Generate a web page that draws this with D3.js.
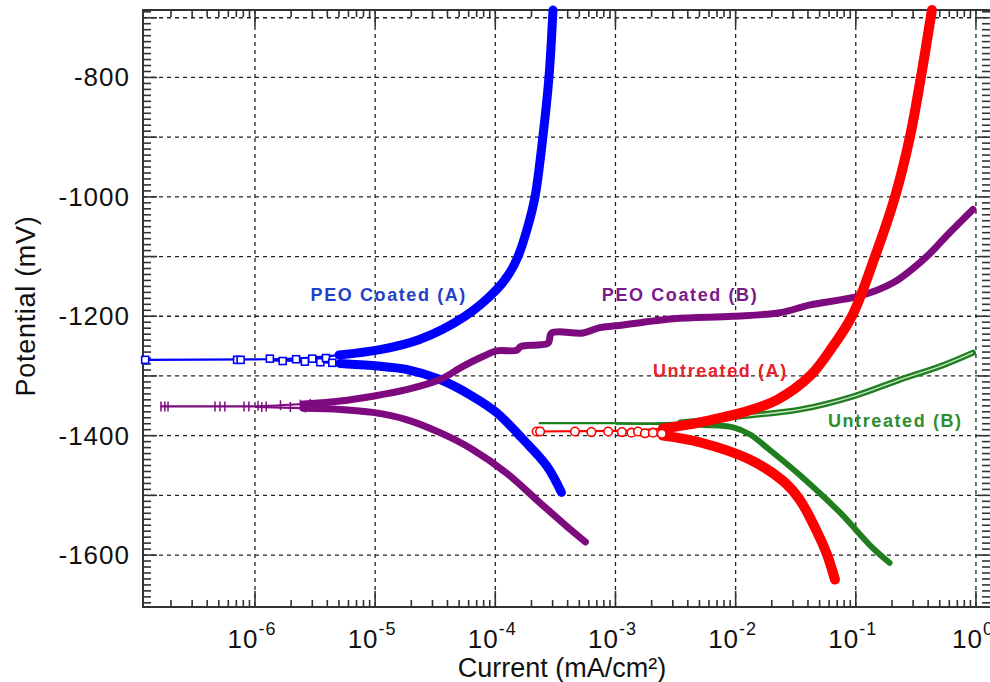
<!DOCTYPE html>
<html>
<head>
<meta charset="utf-8">
<script src="https://cdn.jsdelivr.net/npm/d3@7/dist/d3.min.js"></script>
<style>
  body { margin: 0; background: #fff; }
  svg { display: block; font-family: Arial, "Liberation Sans", sans-serif; }
  .tickLabel { font-size: 26px; fill: #111; letter-spacing: 1px; }
  .axisTitle { font-size: 27px; fill: #111; }
  .grid line { stroke: #222; stroke-width: 1.3; stroke-dasharray: 4,4; }
  .frame line { stroke: #333; stroke-width: 2; }
  .ticks line { stroke: #333; stroke-width: 1.6; }
  .seriesLabel { font-size: 18px; font-weight: bold; letter-spacing: 1.6px; }
</style>
</head>
<body>
<script>
// ---- data: current (mA/cm2), potential (mV) ----
const blueAnodicI = [1.26e-6, 2.51e-6, 5.0e-6, 1.10e-5, 2.34e-5, 5.6e-5, 1.03e-4, 1.32e-4, 1.545e-4, 1.87e-4, 2.14e-4, 2.49e-4, 2.80e-4, 3.02e-4];
const blueAnodicE = [-1272, -1270, -1265, -1256, -1239, -1200, -1155, -1127, -1100, -1049, -1000, -899, -798, -687];
const blueCathodicI = [1.26e-6, 2.51e-6, 5.1e-6, 1.0e-5, 1.82e-5, 3.47e-5, 6.46e-5, 1.02e-4, 1.70e-4, 2.69e-4, 3.55e-4];
const blueCathodicE = [-1274, -1275, -1279, -1283, -1289, -1306, -1334, -1361, -1406, -1451, -1495];
const blueMarkI = [1.22e-7, 7.1e-7, 7.6e-7, 1.33e-6, 1.7e-6, 2.2e-6, 2.6e-6, 3.0e-6, 3.5e-6, 3.9e-6, 4.4e-6];
const blueMarkE = [-1273, -1273, -1273, -1271, -1275, -1272, -1276, -1271, -1277, -1270, -1278];

const purpleAnodicI = [1.0e-6, 2.51e-6, 5.13e-6, 9.55e-6, 1.82e-5, 3.47e-5, 5.37e-5, 7.94e-5, 1.02e-4, 1.51e-4, 1.62e-4, 2.24e-4, 2.75e-4, 2.95e-4, 5.37e-4, 7.41e-4, 1.02e-3, 3.02e-3, 9.55e-3, 0.0234, 0.0417, 0.108, 0.204, 0.389, 0.603, 0.944];
const purpleAnodicE = [-1351, -1347, -1342, -1334, -1323, -1306, -1284, -1267, -1258, -1257, -1251, -1248, -1245, -1228, -1228, -1219, -1216, -1204, -1200, -1194, -1181, -1166, -1144, -1100, -1060, -1021];
const purpleCathodicI = [1.0e-6, 2.51e-6, 5.13e-6, 9.55e-6, 1.82e-5, 3.47e-5, 6.46e-5, 1.23e-4, 2.34e-4, 3.89e-4, 5.62e-4];
const purpleCathodicE = [-1352, -1354, -1356, -1361, -1373, -1395, -1423, -1462, -1512, -1551, -1578];
const purpleMarkI = [1.65e-7, 1.78e-7, 1.89e-7, 4.65e-7, 5.11e-7, 5.62e-7, 8.1e-7, 8.9e-7, 1.06e-6, 1.14e-6, 1.24e-6, 1.63e-6, 1.97e-6, 2.39e-6, 2.63e-6, 2.88e-6];
const purpleMarkE = [-1351, -1351, -1351, -1351, -1351, -1351, -1351, -1351, -1350, -1352, -1351, -1349, -1352, -1348, -1353, -1347];

const redAnodicI = [1.09e-3, 2.48e-3, 4.17e-3, 6.47e-3, 0.0115, 0.0221, 0.0416, 0.0646, 0.0929, 0.1445, 0.212, 0.282, 0.348, 0.430];
const redAnodicE = [-1392, -1388, -1381, -1373, -1361, -1340, -1300, -1250, -1200, -1100, -1000, -900, -800, -687];
const redCathodicI = [1.09e-3, 2.48e-3, 5.01e-3, 0.0131, 0.0245, 0.0341, 0.0465, 0.0576, 0.0671];
const redCathodicE = [-1394, -1400, -1411, -1440, -1475, -1507, -1557, -1599, -1641];
const redMarkI = [2.21e-4, 2.36e-4, 4.6e-4, 6.3e-4, 8.7e-4, 1.13e-3, 1.36e-3, 1.54e-3, 1.76e-3, 2.05e-3, 2.43e-3];
const redMarkE = [-1393, -1393, -1393, -1394, -1393, -1394, -1395, -1393, -1396, -1395, -1397];

const greenAnodicI = [1.0e-3, 3.47e-3, 9.55e-3, 0.0347, 0.0955, 0.234, 0.501, 0.944];
const greenAnodicE = [-1379, -1378, -1369, -1356, -1334, -1306, -1284, -1261];
const greenCathodicI = [1.0e-3, 3.47e-3, 5.5e-3, 9.55e-3, 0.0132, 0.0182, 0.0347, 0.0741, 0.132, 0.191];
const greenCathodicE = [-1380, -1381, -1382, -1386, -1398, -1420, -1467, -1529, -1584, -1613];

const seriesNames = ["PEO Coated (A)", "PEO Coated (B)", "Untreated (A)", "Untreated (B)"];
const ecorr = [-1273, -1351, -1393, -1379];
const spikeMinI = [1.2e-7, 1.65e-7, 2.14e-4, 2.3e-4];
const labelI = [2.9e-6, 7.7e-4, 2.05e-3, 0.0586];
const labelE = [-1164, -1164, -1292, -1375];

const yTickValues = [-800, -1000, -1200, -1400, -1600];
const xTickExponents = [-6, -5, -4, -3, -2, -1, 0];

// ---- layout ----
const width = 990, height = 682;
const m = { left: 143, right: 992, top: 10, bottom: 607 };

const x = d3.scaleLog().domain([1.17e-7, 1.36]).range([m.left, m.right]);
const y = d3.scaleLinear().domain([-1687, -687]).range([m.bottom, m.top]);

const svg = d3.select("body").append("svg")
  .attr("width", width).attr("height", height);

// grid
const grid = svg.append("g").attr("class", "grid");
grid.selectAll(".h").data(d3.range(-1600, -699, 100)).enter().append("line")
  .attr("x1", m.left).attr("x2", m.right)
  .attr("y1", d => y(d)).attr("y2", d => y(d));
grid.selectAll(".v").data(xTickExponents).enter().append("line")
  .attr("x1", d => x(Math.pow(10, d))).attr("x2", d => x(Math.pow(10, d)))
  .attr("y1", m.top).attr("y2", m.bottom);

// ticks
const ticks = svg.append("g").attr("class", "ticks");
const yMinor = d3.range(-1680, -689, 10);
ticks.selectAll(".yl").data(yMinor).enter().append("line")
  .attr("x1", m.left).attr("x2", d => m.left + (d % 100 === 0 ? 14 : 8))
  .attr("y1", d => y(d)).attr("y2", d => y(d));
ticks.selectAll(".yr").data(yMinor).enter().append("line")
  .attr("x1", m.right).attr("x2", d => m.right - (d % 100 === 0 ? 14 : 10))
  .attr("y1", d => y(d)).attr("y2", d => y(d));
const xMinor = [];
for (let e = -7; e <= 0; e++) for (let k = 1; k <= 9; k++) {
  const v = k * Math.pow(10, e);
  if (v >= x.domain()[0] && v <= x.domain()[1]) xMinor.push({ v, major: k === 1 });
}
ticks.selectAll(".xb").data(xMinor).enter().append("line")
  .attr("x1", d => x(d.v)).attr("x2", d => x(d.v))
  .attr("y1", m.bottom).attr("y2", d => m.bottom - (d.major ? 16 : 7));
ticks.selectAll(".xt").data(xMinor).enter().append("line")
  .attr("x1", d => x(d.v)).attr("x2", d => x(d.v))
  .attr("y1", m.top).attr("y2", d => m.top + (d.major ? 16 : 7));

// frame
const frame = svg.append("g").attr("class", "frame");
frame.append("line").attr("x1", m.left).attr("x2", m.left).attr("y1", m.top - 1).attr("y2", m.bottom + 1);
frame.append("line").attr("x1", m.left).attr("x2", m.right).attr("y1", m.bottom).attr("y2", m.bottom);
frame.append("line").attr("x1", m.left).attr("x2", m.right).attr("y1", m.top).attr("y2", m.top);

// tick labels
svg.append("g").selectAll("text").data(yTickValues).enter().append("text")
  .attr("class", "tickLabel")
  .attr("x", 130).attr("y", d => y(d))
  .attr("text-anchor", "end").attr("dominant-baseline", "central")
  .text(d => d);

const xl = svg.append("g").selectAll("text").data(xTickExponents).enter().append("text")
  .attr("class", "tickLabel")
  .attr("x", d => x(Math.pow(10, d)) - 3).attr("y", 648)
  .attr("text-anchor", "middle");
xl.append("tspan").text("10");
xl.append("tspan").attr("dy", -13).attr("font-size", 18).text(d => d === 0 ? "0" : "-" + Math.abs(d));

// axis titles
svg.append("text").attr("class", "axisTitle")
  .attr("transform", "translate(35,306) rotate(-90)")
  .attr("font-size", 28).attr("letter-spacing", 0.7)
  .attr("text-anchor", "middle").text("Potential (mV)");
svg.append("text").attr("class", "axisTitle")
  .attr("x", 562).attr("y", 677)
  .attr("text-anchor", "middle").text("Current (mA/cm²)");

// ---- curves ----
const zip = (is, es) => is.map((v, j) => ({ i: v, e: es[j] }));
const line = d3.line().x(d => x(d.i)).y(d => y(d.e)).curve(d3.curveCatmullRom.alpha(0.5));
const straight = d3.line().x(d => x(d.i)).y(d => y(d.e));
const plot = svg.append("g");

const series = [
  { color: "#0000ff", text: "#2440c8", thick: 9, from: 4.9e-6,
    an: zip(blueAnodicI, blueAnodicE), ca: zip(blueCathodicI, blueCathodicE),
    marks: zip(blueMarkI, blueMarkE), shape: "square" },
  { color: "#7e0a80", text: "#7a1a8a", thick: 7, from: 2.5e-6,
    an: zip(purpleAnodicI, purpleAnodicE), ca: zip(purpleCathodicI, purpleCathodicE),
    marks: zip(purpleMarkI, purpleMarkE), shape: "plus" },
  { color: "#ff0000", text: "#e8202a", thick: 10, from: 2.4e-3,
    an: zip(redAnodicI, redAnodicE), ca: zip(redCathodicI, redCathodicE),
    marks: zip(redMarkI, redMarkE), shape: "circle" },
  { color: "#1f7f1f", text: "#2e8e2e", thick: 6, from: 3.4e-3,
    an: zip(greenAnodicI, greenAnodicE), ca: zip(greenCathodicI, greenCathodicE),
    marks: [], shape: null }
];
// draw order: blue, purple, green, red
[0, 1, 3, 2].forEach(k => {
  const s = series[k];
  const g = plot.append("g");
  const spike = [{ i: spikeMinI[k], e: ecorr[k] }, s.an[0]];
  g.append("path").attr("d", straight(spike))
    .attr("fill", "none").attr("stroke", s.color).attr("stroke-width", 2.2);
  [s.an, s.ca].forEach(br => {
    g.append("path").attr("d", line(br))
      .attr("fill", "none").attr("stroke", s.color).attr("stroke-width", 2.2);
    g.append("path").attr("d", line(br.filter(d => d.i >= s.from)))
      .attr("fill", "none").attr("stroke", s.color)
      .attr("stroke-width", s.thick).attr("stroke-linecap", "round")
      .attr("stroke-linejoin", "round");
  });
  if (k === 3) {
    g.append("path").attr("d", line(s.an.filter(d => d.i >= s.from)))
      .attr("fill", "none").attr("stroke", "#cfe6cf").attr("stroke-width", 1.3);
  }
  const mk = g.selectAll(".m").data(s.marks).enter();
  if (s.shape === "square") {
    mk.append("rect").attr("x", d => x(d.i) - 3.5).attr("y", d => y(d.e) - 3.5)
      .attr("width", 7).attr("height", 7)
      .attr("fill", "#fff").attr("stroke", s.color).attr("stroke-width", 1.6);
  } else if (s.shape === "circle") {
    mk.append("circle").attr("cx", d => x(d.i)).attr("cy", d => y(d.e)).attr("r", 4.3)
      .attr("fill", "#fff").attr("stroke", s.color).attr("stroke-width", 1.6);
  } else if (s.shape === "plus") {
    mk.append("line").attr("x1", d => x(d.i)).attr("x2", d => x(d.i))
      .attr("y1", d => y(d.e) - 5).attr("y2", d => y(d.e) + 5)
      .attr("stroke", s.color).attr("stroke-width", 1.5);
  }
});

// series labels
svg.append("g").selectAll("text").data(seriesNames).enter().append("text")
  .attr("class", "seriesLabel")
  .attr("x", (d, k) => x(labelI[k])).attr("y", (d, k) => y(labelE[k]))
  .attr("dominant-baseline", "central")
  .attr("fill", (d, k) => series[k].text)
  .text(d => d);
</script>
</body>
</html>
